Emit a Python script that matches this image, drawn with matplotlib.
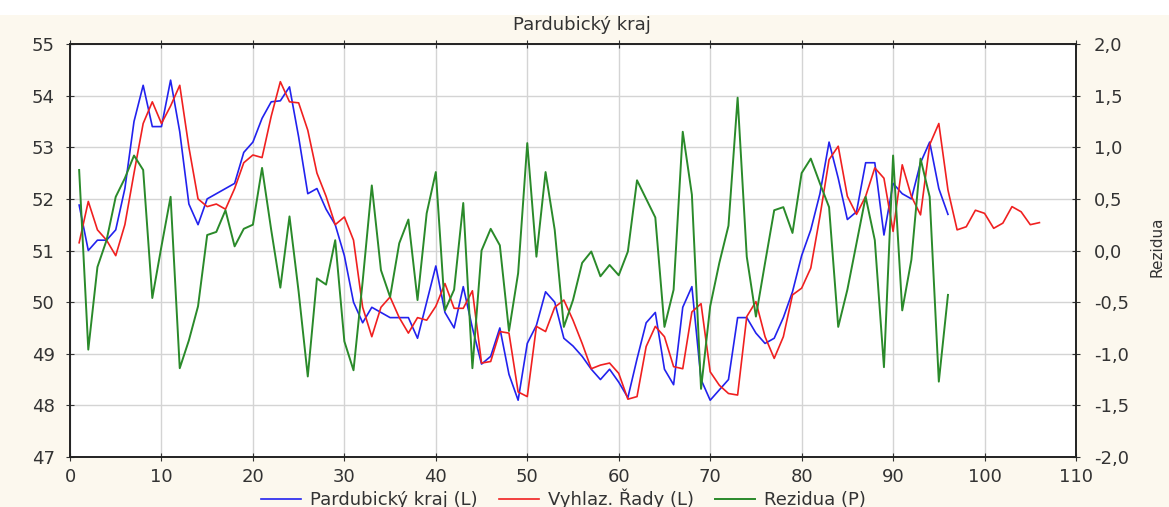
import numpy as np
import matplotlib
matplotlib.use("Agg")
from matplotlib import pyplot as plt
from matplotlib.ticker import MultipleLocator, FuncFormatter
from matplotlib.patches import Rectangle

# Pardubický kraj (L) - původní řada, t = 1..96
kraj = [51.88, 51.0, 51.2, 51.2, 51.4, 52.2, 53.5, 54.2, 53.4, 53.4,
        54.3, 53.3, 51.9, 51.5, 52.0, 52.1, 52.2, 52.3, 52.9, 53.1,
        53.56, 53.88, 53.9, 54.17, 53.2, 52.1, 52.2, 51.8, 51.5, 50.9,
        50.0, 49.6, 49.9, 49.8, 49.7, 49.7, 49.7, 49.3, 50.0, 50.7,
        49.8, 49.5, 50.3, 49.5, 48.8, 48.95, 49.5, 48.6, 48.1, 49.2,
        49.55, 50.2, 50.0, 49.3, 49.15, 48.95, 48.7, 48.5, 48.7, 48.45,
        48.15, 48.9, 49.6, 49.8, 48.7, 48.4, 49.9, 50.3, 48.5, 48.1,
        48.3, 48.5, 49.7, 49.7, 49.4, 49.2, 49.3, 49.7, 50.2, 50.9,
        51.4, 52.1, 53.1, 52.4, 51.6, 51.75, 52.7, 52.7, 51.3, 52.3,
        52.1, 52.0, 52.7, 53.1, 52.2, 51.7]

# Vyhlaz. Řady (L) - vyhlazená řada s předpovědí, t = 1..106
vyhlaz = [51.15, 51.95, 51.4, 51.2, 50.9, 51.5, 52.5, 53.46, 53.88, 53.46,
          53.8, 54.2, 53.0, 52.0, 51.85, 51.9, 51.8, 52.2, 52.7, 52.85,
          52.8, 53.6, 54.27, 53.88, 53.86, 53.33, 52.5, 52.05, 51.5, 51.65,
          51.2, 49.9, 49.33, 49.9, 50.1, 49.7, 49.4, 49.7, 49.65, 49.92,
          50.36, 49.88, 49.88, 50.22, 48.82, 48.85, 49.43, 49.4, 48.26, 48.17,
          49.53, 49.43, 49.9, 50.04, 49.65, 49.2, 48.71, 48.78, 48.82, 48.62,
          48.12, 48.17, 49.14, 49.53, 49.33, 48.75, 48.71, 49.81, 49.97, 48.65,
          48.39, 48.23, 48.2, 49.72, 50.01, 49.33, 48.91, 49.33, 50.14, 50.27,
          50.66, 51.66, 52.76, 53.02, 52.05, 51.7, 52.05, 52.6, 52.4, 51.37,
          52.66, 52.05, 51.69, 53.05, 53.46, 52.17, 51.4, 51.46, 51.78, 51.72,
          51.43, 51.53, 51.85, 51.75, 51.5, 51.54]

# Rezidua (P), t = 1..96
rezidua = [0.78, -0.96, -0.16, 0.1, 0.52, 0.7, 0.92, 0.78, -0.46, 0.04,
           0.52, -1.14, -0.87, -0.54, 0.15, 0.18, 0.39, 0.04, 0.21, 0.25,
           0.8, 0.2, -0.36, 0.33, -0.4, -1.22, -0.27, -0.33, 0.1, -0.88,
           -1.16, -0.3, 0.63, -0.19, -0.45, 0.07, 0.3, -0.48, 0.36, 0.76,
           -0.58, -0.38, 0.46, -1.14, 0.0, 0.21, 0.05, -0.78, -0.22, 1.04,
           -0.06, 0.76, 0.2, -0.74, -0.48, -0.12, -0.01, -0.25, -0.14, -0.24,
           -0.01, 0.68, 0.5, 0.32, -0.74, -0.38, 1.15, 0.54, -1.34, -0.54,
           -0.12, 0.24, 1.48, -0.06, -0.64, -0.12, 0.39, 0.42, 0.17, 0.75,
           0.89, 0.65, 0.42, -0.74, -0.38, 0.07, 0.52, 0.1, -1.13, 0.92,
           -0.58, -0.09, 0.89, 0.52, -1.27, -0.43]

t_kraj = np.arange(1, len(kraj) + 1)
t_vyhlaz = np.arange(1, len(vyhlaz) + 1)
t_rez = np.arange(1, len(rezidua) + 1)

plt.rcParams['font.family'] = ['DejaVu Sans']

fig = plt.figure(figsize=(11.69, 5.07), dpi=100)
fig.patch.set_facecolor('#fcf8ee')
# bílý pruh nahoře (okraj dokumentu)
fig.patches.append(Rectangle((0, 1 - 15 / 507), 1, 15 / 507, transform=fig.transFigure,
                             facecolor='white', edgecolor='none', zorder=0))

ax = fig.add_axes([70 / 1169, 1 - 457 / 507, (1076 - 70) / 1169, (457 - 44) / 507])
ax.set_facecolor('white')
ax2 = ax.twinx()

l1, = ax.plot(t_kraj, kraj, color='#2222ee', lw=1.2, label='Pardubický kraj (L)')
l2, = ax.plot(t_vyhlaz, vyhlaz, color='#f02020', lw=1.2, label='Vyhlaz. Řady (L)')
l3, = ax2.plot(t_rez, rezidua, color='#2a8a2a', lw=1.4, label='Rezidua (P)')

ax.set_xlim(0, 110)
ax.set_ylim(47, 55)
ax2.set_ylim(-2, 2)
ax.xaxis.set_major_locator(MultipleLocator(10))
ax.yaxis.set_major_locator(MultipleLocator(1))
ax2.yaxis.set_major_locator(MultipleLocator(0.5))
ax2.yaxis.set_major_formatter(FuncFormatter(lambda v, p: f"{v:.1f}".replace('.', ',').replace('-', '-')))

ax.grid(True, color='#d4d4d4', lw=1)
ax.set_axisbelow(True)

ax.tick_params(axis='x', direction='inout', length=6, top=True, labelsize=13, pad=5, colors='#333333')
ax.tick_params(axis='y', direction='inout', length=6, labelsize=13, pad=8, colors='#333333')
ax2.tick_params(axis='y', direction='inout', length=6, labelsize=13, pad=10, colors='#333333')
for a in (ax, ax2):
    for s in a.spines.values():
        s.set_linewidth(1.2)
        s.set_color('#222222')

fig.text(582 / 1169, 1 - 25 / 507, 'Pardubický kraj', ha='center', va='center',
         fontsize=13, color='#333333')
fig.text(1157 / 1169, 1 - 247 / 507, 'Rezidua', rotation=90, ha='center', va='center',
         fontsize=11, color='#333333')

fig.legend(handles=[l1, l2, l3], loc='center', bbox_to_anchor=(0.482, 0.016), ncol=3,
           frameon=False, fontsize=13, handlelength=2.2, handletextpad=0.5,
           columnspacing=1.2, labelcolor='#333333')

fig.savefig('out.png', dpi=100, facecolor=fig.get_facecolor())
